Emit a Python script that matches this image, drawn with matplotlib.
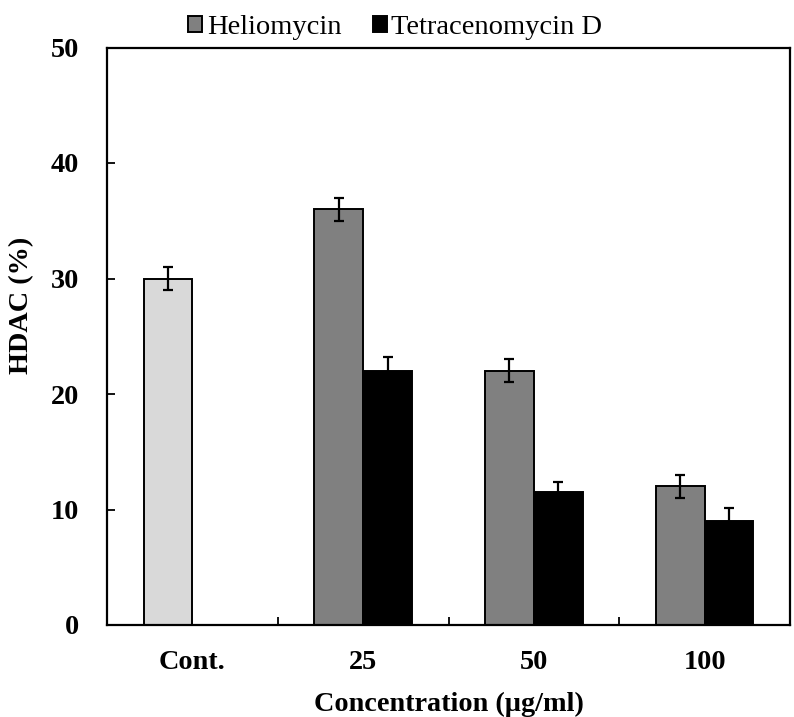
import numpy as np
import matplotlib
matplotlib.use("Agg")
import matplotlib.pyplot as plt
from matplotlib.patches import Patch

plt.rcParams["font.family"] = ["Liberation Serif", "DejaVu Serif"]

# ---- data ----
categories = ["Cont.", "25", "50", "100"]
control_val = [30.0]
control_err = [1.0]
helio = [36.0, 22.0, 12.0]          # 25, 50, 100 ug/ml
helio_err = [1.0, 1.0, 1.0]
tetra = [22.0, 11.5, 9.0]
tetra_err = [1.2, 0.9, 1.1]

W = 0.286
FS = 20.3
centers = np.arange(len(categories)) + 0.5

fig = plt.figure(figsize=(7.94, 7.17), dpi=100)
ax = fig.add_axes([107 / 794, 1 - 625 / 717, 683 / 794, 577.5 / 717])

ekw = dict(ecolor="black", elinewidth=1.6, capsize=3.8, capthick=1.6)
ax.bar(centers[:1] - W / 2, control_val, W, yerr=control_err, color="#d9d9d9",
       edgecolor="black", linewidth=1.4, error_kw=ekw)
ax.bar(centers[1:] - W / 2, helio, W, yerr=helio_err, color="#808080",
       edgecolor="black", linewidth=1.4, error_kw=ekw, label="Heliomycin")
ax.bar(centers[1:] + W / 2, tetra, W, yerr=tetra_err, color="black",
       edgecolor="black", linewidth=1.4, error_kw=ekw, label="Tetracenomycin D")

ax.set_xlim(0, len(categories))
ax.set_ylim(0, 50)
ax.set_yticks(np.arange(0, 51, 10))
ax.set_xticks([1, 2, 3])
ax.set_xticklabels([])
ax.set_xticks(centers, minor=True)
ax.set_xticklabels(categories, minor=True, fontsize=FS, fontweight="bold")
ax.tick_params(axis="x", which="minor", length=0, pad=18)
ax.tick_params(axis="x", which="major", direction="in", length=6, width=1.3)
ax.tick_params(axis="y", direction="in", length=6, width=1.3, pad=20, labelsize=FS)
for lab in ax.get_yticklabels():
    lab.set_fontweight("bold")
for sp in ax.spines.values():
    sp.set_linewidth(1.6)

ax.set_ylabel("HDAC (%)", fontsize=FS, fontweight="bold")
ax.yaxis.set_label_coords(-0.107, 0.553)
ax.set_xlabel("Concentration (\u00b5g/ml)", fontsize=FS, fontweight="bold", labelpad=12)

handles = [Patch(facecolor="#808080", edgecolor="black", linewidth=1.4, label="Heliomycin"),
           Patch(facecolor="black", edgecolor="black", linewidth=1.4, label="Tetracenomycin D")]
fig.legend(handles=handles, loc="upper left", bbox_to_anchor=(174 / 794, 1 - 1 / 717),
           ncol=2, frameon=False, fontsize=20.5, handlelength=0.5, handleheight=0.5,
           handletextpad=0.15, columnspacing=1.1, borderpad=0)

fig.savefig("out.png", dpi=100)
